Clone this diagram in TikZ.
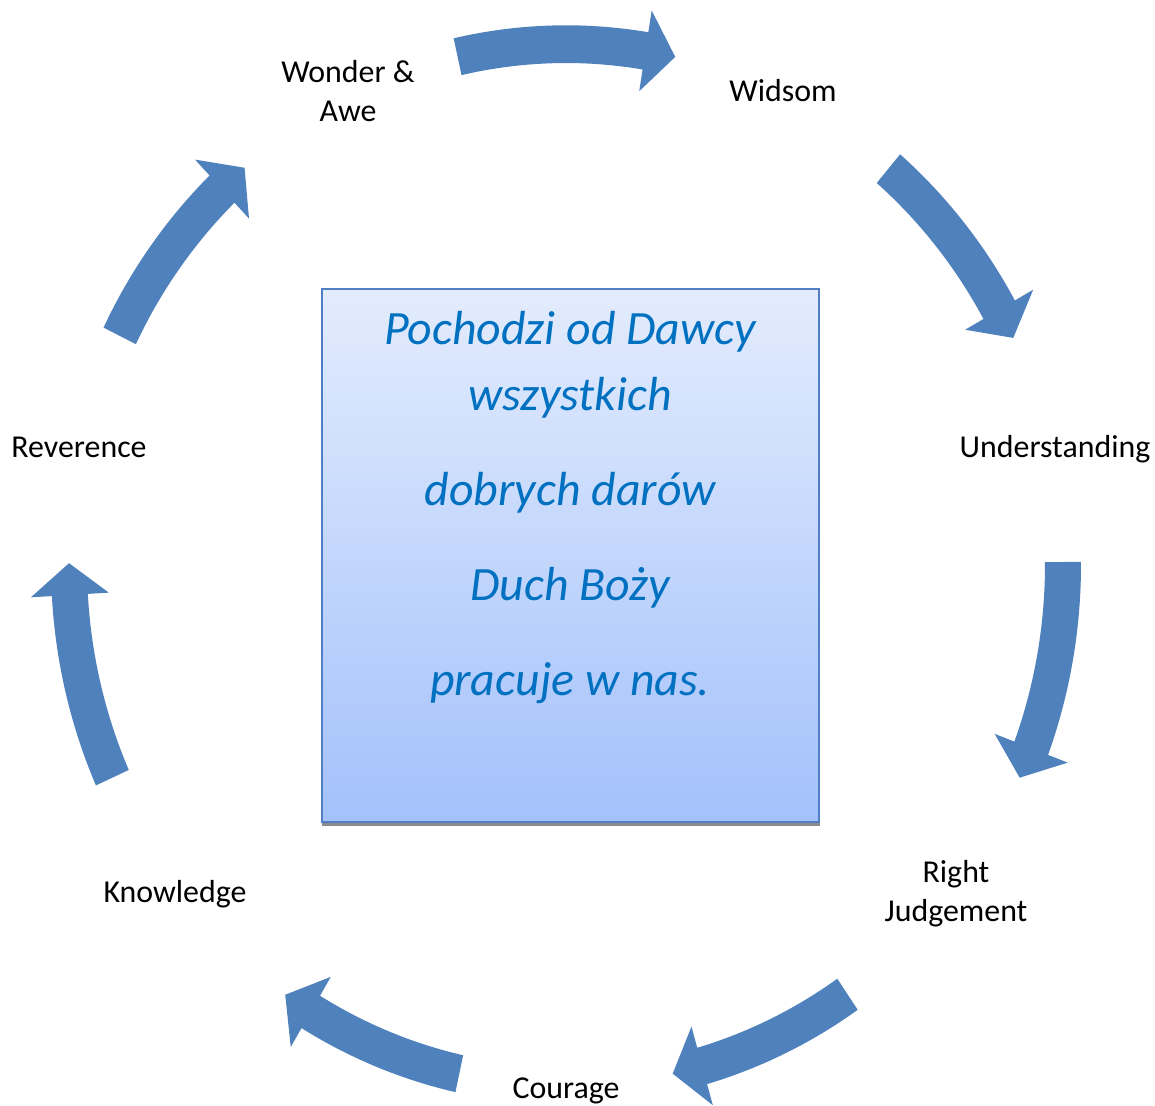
\documentclass[tikz,border=0pt]{standalone}
\usepackage{fontspec}
\setmainfont{Carlito}
\definecolor{arrowblue}{RGB}{79,129,189}
\definecolor{boxborder}{RGB}{80,128,195}
\definecolor{boxtop}{RGB}{227,236,253}
\definecolor{boxbottom}{RGB}{163,193,251}
\definecolor{boxtext}{RGB}{0,112,192}
\newcommand{\cyclearrow}[2]{%
  \pgfmathsetmacro{\ta}{#1}%
  \pgfmathsetmacro{\tp}{#2}%
  \pgfmathsetmacro{\tb}{#2+3.5}%
  \fill[arrowblue] (\ta:515) arc[start angle=\ta, end angle=\tb, radius=515]
    -- (\tb:536) -- (\tp:497) -- (\tb:458) -- (\tb:479)
    arc[start angle=\tb, end angle=\ta, radius=479] -- cycle;
}
\begin{document}
\begin{tikzpicture}[x=1bp,y=1bp]
\tikzset{
  lbl/.style={font=\fontsize{32}{40}\selectfont, anchor=base, inner sep=0pt, text=black},
}
\useasboundingbox (0,0) rectangle (1155,-1106);
\fill[white] (0,0) rectangle (1155,-1106);

% arrows
\begin{scope}[shift={(566,-565)}, yscale=1.048]
  \cyclearrow{102.6}{77.3}
  \cyclearrow{49.55}{25.85}
  \cyclearrow{0.33}{-24.1}
  \cyclearrow{-55.5}{-77.6}
  \cyclearrow{-102.4}{-124.4}
  \cyclearrow{-155.9}{-180.2}
  \cyclearrow{153.9}{130.3}
\end{scope}

% labels
\node[lbl] (wonder) at (348,-82) {\begin{tabular}[t]{@{}c@{}}Wonder \&\\Awe\end{tabular}};
\node[lbl] (wisdom) at (783,-101) {Widsom};
\node[lbl] (underst) at (1055,-457) {Understanding};
\node[lbl] (judge) at (956,-882) {\begin{tabular}[t]{@{}c@{}}Right\\Judgement\end{tabular}};
\node[lbl] (courage) at (566,-1098) {Courage};
\node[lbl] (knowl) at (175,-902) {Knowledge};
\node[lbl] (rever) at (79,-457) {Reverence};

% central box
\fill[black!45] (322,-293) rectangle (820,-826);
\node[draw=boxborder, line width=1.6bp, top color=boxtop, bottom color=boxbottom,
      minimum width=497bp, minimum height=533bp, inner sep=0pt] (box) at (570.5,-555.5) {};
\node[anchor=base, inner sep=0pt, text=boxtext, font=\fontsize{48}{67}\selectfont\itshape] (msg) at (570,-344)
  {\begin{tabular}[t]{@{}c@{}}Pochodzi od Dawcy\\wszystkich\\[28bp]dobrych darów\\[28bp]Duch Boży\\[28bp]pracuje w nas.\end{tabular}};
\end{tikzpicture}
\end{document}
